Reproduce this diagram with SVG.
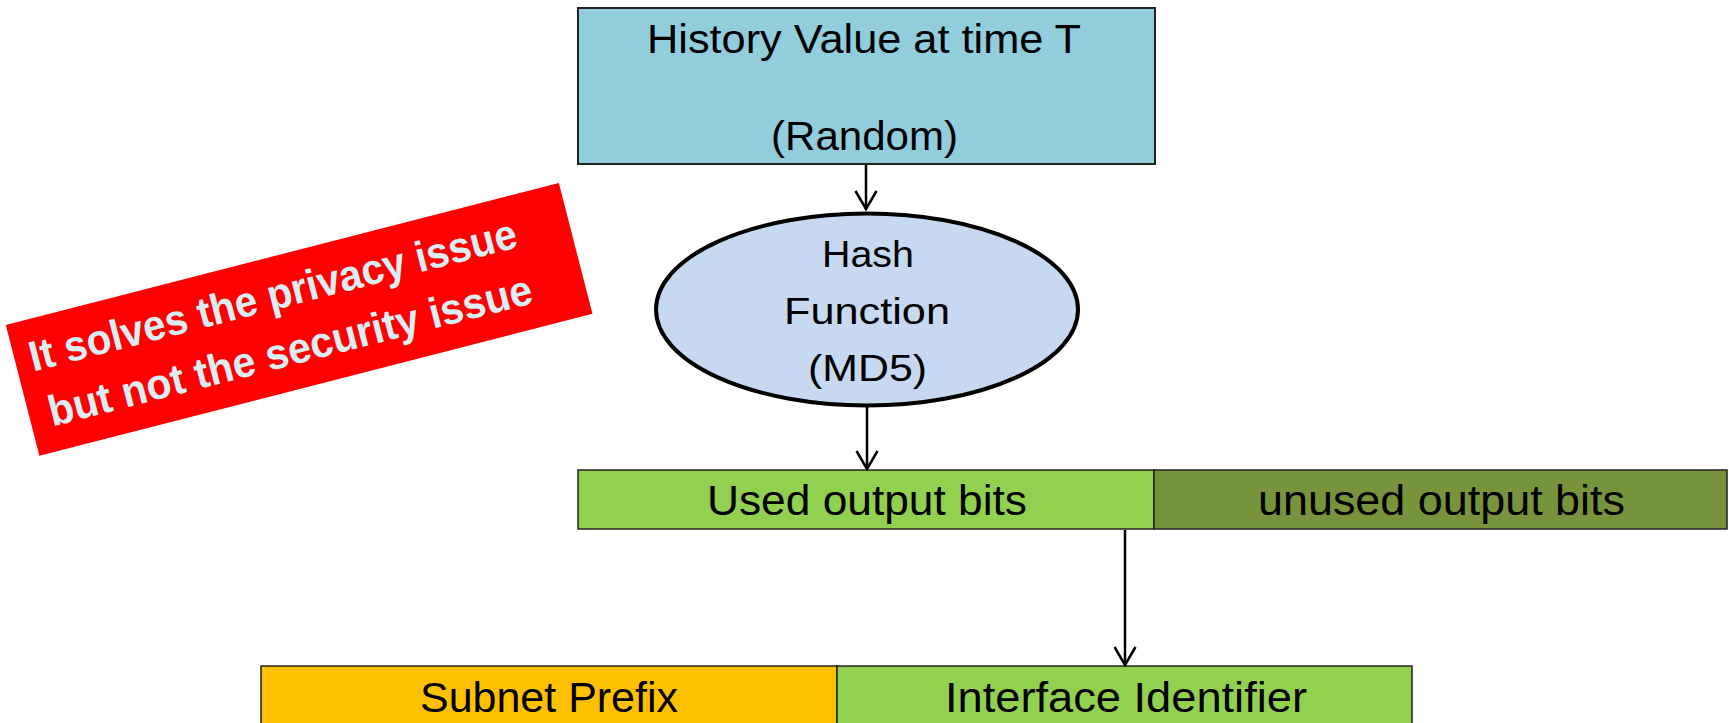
<svg xmlns="http://www.w3.org/2000/svg" width="1729" height="723" viewBox="0 0 1729 723">
<style>
.t{font-family:"Liberation Sans",Arial,sans-serif;fill:#000}
.bar{stroke:#222;stroke-width:1.5}
.conn{stroke:#000;stroke-width:2.5;fill:none}
.note{font-family:"Liberation Sans",Arial,sans-serif;font-weight:bold;font-size:43px;fill:#daeef3}
</style>
<defs>
<marker id="arr" markerUnits="userSpaceOnUse" viewBox="-22 -13 24 26" markerWidth="24" markerHeight="26" refX="0" refY="0" orient="auto" overflow="visible">
<path d="M-18,-10.5 L0,0 L-18,10.5" fill="none" stroke="#000" stroke-width="2.5"/>
</marker>
</defs>
<rect width="1729" height="723" fill="#fff"/>
<g id="history">
<rect x="578" y="8" width="577" height="156" fill="#92cddc" stroke="#222" stroke-width="2"/>
<text class="t" x="647" y="53" font-size="40" textLength="434" lengthAdjust="spacingAndGlyphs">History Value at time T</text>
<text class="t" x="771" y="150" font-size="40" textLength="187" lengthAdjust="spacingAndGlyphs">(Random)</text>
</g>
<g id="hash">
<ellipse cx="867" cy="309.5" rx="211" ry="96" fill="#c6d9f1" stroke="#000" stroke-width="4"/>
<text class="t" x="822" y="267" font-size="37" textLength="92" lengthAdjust="spacingAndGlyphs">Hash</text>
<text class="t" x="784" y="324" font-size="37" textLength="166" lengthAdjust="spacingAndGlyphs">Function</text>
<text class="t" x="808" y="381" font-size="37" textLength="119" lengthAdjust="spacingAndGlyphs">(MD5)</text>
</g>
<g id="used">
<rect class="bar" x="578" y="470" width="576" height="59" fill="#92d050"/>
<text class="t" x="707" y="515" font-size="42" textLength="320" lengthAdjust="spacingAndGlyphs">Used output bits</text>
</g>
<g id="unused">
<rect class="bar" x="1154" y="470" width="573" height="59" fill="#77933c"/>
<text class="t" x="1258" y="515" font-size="42" textLength="367" lengthAdjust="spacingAndGlyphs">unused output bits</text>
</g>
<g id="subnet">
<rect class="bar" x="261" y="666" width="576" height="80" fill="#ffc000"/>
<text class="t" x="420" y="712" font-size="42" textLength="258" lengthAdjust="spacingAndGlyphs">Subnet Prefix</text>
</g>
<g id="iid">
<rect class="bar" x="837" y="666" width="575" height="80" fill="#92d050"/>
<text class="t" x="945" y="712" font-size="42" textLength="362" lengthAdjust="spacingAndGlyphs">Interface Identifier</text>
</g>
<g id="note" transform="translate(5.8,325) rotate(-14.4)">
<rect x="0" y="0" width="571" height="135" fill="#ff0000"/>
<text class="note" x="15" y="52" textLength="502" lengthAdjust="spacingAndGlyphs">It solves the privacy issue</text>
<text class="note" x="20" y="110" textLength="498" lengthAdjust="spacingAndGlyphs">but not the security issue</text>
</g>
<g id="connectors">
<line class="conn" x1="866" y1="165" x2="866" y2="209" marker-end="url(#arr)"/>
<line class="conn" x1="867" y1="407" x2="867" y2="469" marker-end="url(#arr)"/>
<line class="conn" x1="1125" y1="530" x2="1125" y2="665" marker-end="url(#arr)"/>
</g>
</svg>
